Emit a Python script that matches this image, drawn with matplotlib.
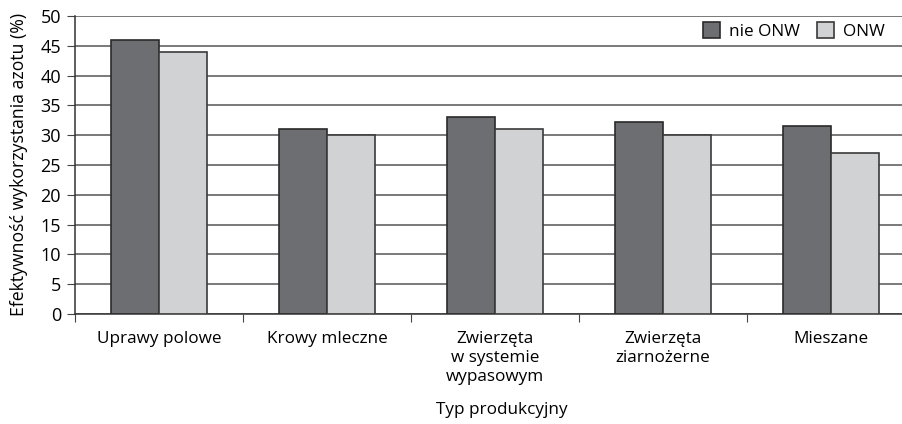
import numpy as np
import matplotlib.pyplot as plt

# data
categories = ["Uprawy polowe", "Krowy mleczne", "Zwierzęta\nw systemie\nwypasowym",
              "Zwierzęta\nziarnożerne", "Mieszane"]
nie_onw = [46, 31, 33, 32.2, 31.5]
onw = [44, 30, 31, 30, 27]

plt.rcParams['font.family'] = ['Open Sans', 'DejaVu Sans']
plt.rcParams['font.size'] = 12.3

fig = plt.figure(figsize=(9.03, 4.24), dpi=100)
# axes runs a little past the right edge, as in the cropped original
ax = fig.add_axes([75 / 903, 1 - 314 / 424, 840 / 903, 298 / 424])

x = np.arange(len(categories))
w = 0.286
ax.bar(x - w / 2, nie_onw, w, color='#6d6e71', edgecolor='#2a2a2a', lw=1.2, label='nie ONW', zorder=3)
ax.bar(x + w / 2, onw, w, color='#d1d2d4', edgecolor='#3a3a3a', lw=1.2, label='ONW', zorder=3)

ax.set_xlim(-0.5, len(categories) - 0.5)
ax.set_ylim(0, 50)
ax.set_yticks(range(0, 51, 5))
ax.yaxis.grid(True, color='#555555', lw=1.1, zorder=0)
ax.set_axisbelow(True)

# tick marks between categories, labels at centres
ax.set_xticks(np.arange(-0.5, len(categories) - 0.5, 1))
ax.set_xticklabels([])
ax.set_xticks(x, minor=True)
ax.set_xticklabels(categories, minor=True, linespacing=1.25)
ax.tick_params(axis='x', which='major', length=6, color='#444444')
ax.tick_params(axis='x', which='minor', length=0, pad=12)
ax.tick_params(axis='y', length=6, color='#444444', pad=4, labelsize=13)

for s in ['top', 'right']:
    ax.spines[s].set_visible(False)
for s in ['left', 'bottom']:
    ax.spines[s].set_color('#333333')
    ax.spines[s].set_linewidth(1.1)

ax.set_ylabel("Efektywność wykorzystania azotu (%)", labelpad=9, fontsize=12.7)
fig.text(502 / 903, 1 - 410 / 424, "Typ produkcyjny", ha='center', va='center')

fig.legend(loc='center right', bbox_to_anchor=(893 / 903, 1 - 31 / 424), ncol=2,
           frameon=False, handlelength=1.0, handleheight=1.0, handletextpad=0.5,
           columnspacing=1.0, borderpad=0)

fig.savefig("out.png", dpi=100)
